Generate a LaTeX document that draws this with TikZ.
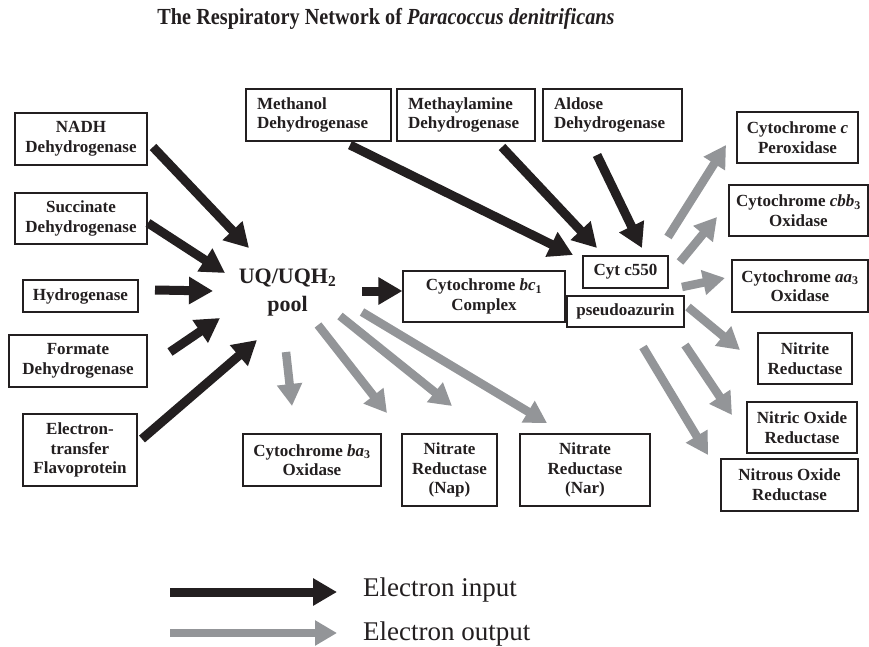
\documentclass[tikz,border=0pt]{standalone}
\usepackage{fontspec}
\usepackage{graphicx}
\setmainfont{Liberation Serif}
\usetikzlibrary{arrows.meta}

\definecolor{ink}{HTML}{231F20}
\definecolor{outgray}{HTML}{939598}

\newcommand{\boxfont}{\fontsize{17}{19.6}\selectfont\bfseries}

\begin{document}
\begin{tikzpicture}[x=1pt,y=-1pt,
  box/.style={draw=ink, line width=1.2pt, inner sep=0pt, align=center,
              font=\boxfont, text=ink},
  lbox/.style={box, align=left, inner xsep=11pt},
  inarrow/.style={draw=ink, line width=9pt, -{Triangle[width=26pt,length=24pt]}},
  outarrow/.style={draw=outgray, line width=8.5pt, -{Triangle[width=24pt,length=22pt]}}]

% canvas
\fill[white] (0,0) rectangle (869,647);
\useasboundingbox (0,0) rectangle (869,647);

% title
\node[anchor=base, inner sep=0pt, text=ink,
      font=\fontsize{23}{26}\selectfont\bfseries] (title) at (386,25)
  {\scalebox{0.88}[1]{The Respiratory Network of \textit{Paracoccus denitrificans}}};

% electron donors (left column)
\node[box, minimum width=132pt, minimum height=52pt] (nadh) at (81,139) {NADH\\Dehydrogenase};
\node[box, minimum width=132pt, minimum height=51pt] (succ) at (81,218.5) {Succinate\\Dehydrogenase};
\node[box, minimum width=115pt, minimum height=32pt] (hyd) at (80.5,296) {Hydrogenase};
\node[box, minimum width=138pt, minimum height=52pt] (form) at (78,361) {Formate\\Dehydrogenase};
\node[box, minimum width=114pt, minimum height=72pt] (etf) at (80,450) {Electron-\\transfer\\Flavoprotein};

% electron donors (top row)
\node[lbox, text width=123pt, minimum height=52pt] (meoh) at (318.5,115) {Methanol\\Dehydrogenase};
\node[lbox, text width=116pt, minimum height=52pt] (mam) at (466,115) {Methaylamine\\Dehydrogenase};
\node[lbox, text width=117pt, minimum height=52pt] (ald) at (612.5,115) {Aldose\\Dehydrogenase};

% quinone pool
\node[anchor=base, inner sep=0pt, text=ink, font=\fontsize{22}{26}\selectfont\bfseries]
  (uq) at (287.5,283) {UQ/UQH\textsubscript{2}};
\node[anchor=base, inner sep=0pt, text=ink, font=\fontsize{22}{26}\selectfont\bfseries]
  (pool) at (287.5,311) {pool};

% carriers
\node[box, minimum width=162pt, minimum height=51pt] (bc1) at (484,296.5)
  {Cytochrome \textit{bc}\textsubscript{1}\\Complex};
\node[box, minimum width=85pt, minimum height=32pt] (c550) at (625.5,272) {Cyt c550};
\node[box, minimum width=117pt, minimum height=31pt] (pseudo) at (625.5,311.5) {pseudoazurin};

% terminal acceptors (right column)
\node[box, minimum width=121pt, minimum height=51pt] (perox) at (797.5,137.5) {Cytochrome \textit{c}\\Peroxidase};
\node[box, minimum width=139pt, minimum height=51pt] (cbb) at (798.5,210.5) {Cytochrome \textit{cbb}\textsubscript{3}\\Oxidase};
\node[box, minimum width=136pt, minimum height=52pt] (aa) at (800,286) {Cytochrome \textit{aa}\textsubscript{3}\\Oxidase};
\node[box, minimum width=94pt, minimum height=51pt] (nir) at (805,358.5) {Nitrite\\Reductase};
\node[box, minimum width=110pt, minimum height=51pt] (nor) at (802,427.5) {Nitric Oxide\\Reductase};
\node[box, minimum width=137pt, minimum height=52pt] (nos) at (789.5,485) {Nitrous Oxide\\Reductase};

% terminal acceptors (bottom row)
\node[box, minimum width=138pt, minimum height=52pt] (ba) at (312,460) {Cytochrome \textit{ba}\textsubscript{3}\\Oxidase};
\node[box, minimum width=95pt, minimum height=72pt] (nap) at (449.5,470) {Nitrate\\Reductase\\(Nap)};
\node[box, minimum width=130pt, minimum height=72pt] (nar) at (585,470) {Nitrate\\Reductase\\(Nar)};

% arrow end points
\coordinate (nadhT) at (153,147);  \coordinate (nadhH) at (249,248);
\coordinate (succT) at (148,223);  \coordinate (succH) at (225,273);
\coordinate (hydT)  at (155,290);  \coordinate (hydH)  at (213,291);
\coordinate (formT) at (170,352);  \coordinate (formH) at (220,318);
\coordinate (etfT)  at (142,439);  \coordinate (etfH)  at (257,340);
\coordinate (uqT)   at (362,291);
\coordinate (meohT) at (350,145);  \coordinate (meohH) at (573,255);
\coordinate (mamT)  at (502,147);  \coordinate (mamH)  at (597,248);
\coordinate (aldT)  at (597,155);  \coordinate (aldH)  at (642,248);

\coordinate (baT)   at (286,352);  \coordinate (baH)   at (292,406);
\coordinate (napT)  at (318,325);  \coordinate (napH)  at (387,413);
\coordinate (nap2T) at (340,316);  \coordinate (nap2H) at (452,406);
\coordinate (narT)  at (362,312);  \coordinate (narH)  at (547,423);

\coordinate (peroxT) at (668,237); \coordinate (peroxH) at (726,145);
\coordinate (cbbT)   at (680,262); \coordinate (cbbH)   at (717,217);
\coordinate (aaT)    at (682,287); \coordinate (aaH)    at (725,278);
\coordinate (nirT)   at (688,307); \coordinate (nirH)   at (740,350);
\coordinate (norT)   at (685,345); \coordinate (norH)   at (732,415);
\coordinate (nosT)   at (643,347); \coordinate (nosH)   at (708,455);

% electron input
\draw[inarrow] (nadhT) -- (nadhH);
\draw[inarrow] (succT) -- (succH);
\draw[inarrow] (hydT) -- (hydH);
\draw[inarrow] (formT) -- (formH);
\draw[inarrow] (etfT) -- (etfH);
\draw[inarrow] (uqT) -- (bc1.west |- uqT);
\draw[inarrow] (meohT) -- (meohH);
\draw[inarrow] (mamT) -- (mamH);
\draw[inarrow] (aldT) -- (aldH);

% electron output
\draw[outarrow] (baT) -- (baH);
\draw[outarrow] (napT) -- (napH);
\draw[outarrow] (nap2T) -- (nap2H);
\draw[outarrow] (narT) -- (narH);
\draw[outarrow] (peroxT) -- (peroxH);
\draw[outarrow] (cbbT) -- (cbbH);
\draw[outarrow] (aaT) -- (aaH);
\draw[outarrow] (nirT) -- (nirH);
\draw[outarrow] (norT) -- (norH);
\draw[outarrow] (nosT) -- (nosH);

% legend
\coordinate (legInT) at (170,592); \coordinate (legInH) at (337,592);
\coordinate (legOutT) at (170,633); \coordinate (legOutH) at (337,633);
\draw[inarrow] (legInT) -- (legInH);
\draw[outarrow] (legOutT) -- (legOutH);
\node[anchor=base west, inner sep=0pt, text=ink, font=\fontsize{27}{30}\selectfont]
  (legIn) at (363,596) {Electron input};
\node[anchor=base west, inner sep=0pt, text=ink, font=\fontsize{27}{30}\selectfont]
  (legOut) at (363,640) {Electron output};
\end{tikzpicture}
\end{document}
